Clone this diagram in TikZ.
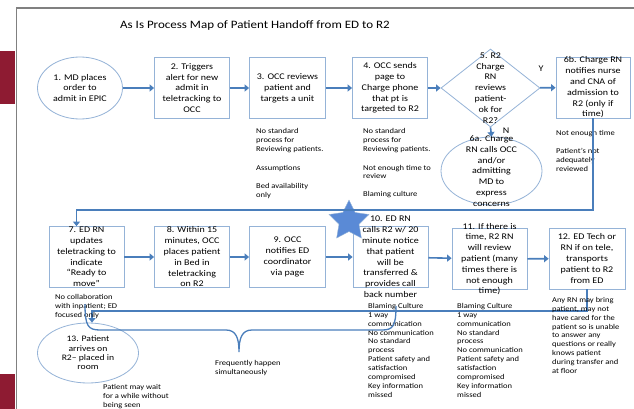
\documentclass[tikz,border=0pt]{standalone}
\usepackage{fontspec}
\setmainfont{Carlito}[FakeStretch=1.15]
\usetikzlibrary{arrows.meta,shapes.geometric}

\definecolor{flowblue}{HTML}{4A7EBB}
\definecolor{edgeblue}{HTML}{95B3D7}
\definecolor{starblue}{HTML}{5A8AD6}
\definecolor{framered}{HTML}{8E1B32}
\definecolor{framegray}{HTML}{808080}

\tikzset{
  procbox/.style={draw=edgeblue, line width=0.8pt, fill=white, minimum width=75pt, minimum height=61pt, inner sep=0pt},
  ovalbox/.style={ellipse, draw=edgeblue, line width=0.8pt, fill=white, inner sep=0pt},
  boxtext/.style={align=center, inner sep=0pt, font=\fontsize{8.7}{10.8}\selectfont},
  notetext/.style={anchor=north west, align=left, inner sep=0pt, font=\fontsize{7.4}{8.9}\selectfont},
  flowarrow/.style={draw=flowblue, line width=1.6pt, -{Triangle[length=4.5pt,width=7pt]}},
  flowline/.style={draw=flowblue, line width=1.3pt}
}

\begin{document}
\begin{tikzpicture}[x=1pt, y=-1pt]
  \useasboundingbox (0,0) rectangle (634,409);
  \fill[framered] (0,51) rectangle (15,104);
  \fill[framered] (0,374) rectangle (15,409);
  \draw[framegray, line width=1.6pt] (16.5,409) -- (16.5,8) -- (634,8);

  \node[font=\fontsize{11.3}{13}\selectfont] (title) at (255,25) {As Is Process Map of Patient Handoff from ED to R2};

  % first row
  \node[ovalbox, minimum width=85pt, minimum height=62pt] (s1) at (80,88) {};
  \node[boxtext] (t1) at (s1) {1. MD places\\order to\\admit in EPIC};
  \node[procbox] (s2) at (192,88) {};
  \node[boxtext] (t2) at (s2) {2. Triggers\\alert for new\\admit in\\teletracking to\\OCC};
  \node[procbox, minimum width=76pt] (s3) at (287.5,88) {};
  \node[boxtext] (t3) at (s3) {3. OCC reviews\\patient and\\targets a unit};
  \node[procbox] (s4) at (390,88) {};
  \node[boxtext] (t4) at (s4) {4. OCC sends\\page to\\Charge phone\\that pt is\\targeted to R2};
  \node[diamond, draw=edgeblue, line width=0.8pt, fill=white, inner sep=0pt,
        minimum width=99pt, minimum height=78pt] (s5) at (490.5,88) {};
  \node[boxtext] (t5) at (s5) {5. R2\\Charge\\RN\\reviews\\patient-\\ok for\\R2?};
  \node[procbox, minimum width=74pt] (s6b) at (593,87.5) {};
  \node[boxtext] (t6b) at (s6b) {6b. Charge RN\\notifies nurse\\and CNA of\\admission to\\R2 (only if\\time)};
  \node[ovalbox, minimum width=101pt, minimum height=68pt] (s6a) at (491.5,171) {};
  \node[boxtext] (t6a) at (s6a) {6a. Charge\\RN calls OCC\\and/or\\admitting\\MD to\\express\\concerns};

  \draw[flowarrow] (s1) -- (s2);
  \draw[flowarrow] (s2) -- (s3);
  \draw[flowarrow] (s3) -- (s4);
  \draw[flowarrow] (s4) -- (s5);
  \draw[flowarrow] (s5) -- (s6b);
  \draw[flowarrow] (s5.south) -- (s6a.north);
  \node[boxtext] (yes) at (541,69) {Y};
  \node[boxtext] (no) at (506,131) {N};

  \node[notetext] (n3) at (256,128) {No standard\\process for\\Reviewing patients.\\[10pt]Assumptions\\[10pt]Bed availability\\only};
  \node[notetext] (n4) at (363,128) {No standard\\process for\\Reviewing patients.\\[10pt]Not enough time to\\review\\[9pt]Blaming culture};
  \node[notetext] (n6b) at (556,130) {Not enough time\\[9pt]Patient’s not\\adequately\\reviewed};

  % second row
  \node[procbox] (s7) at (86.5,257) {};
  \node[boxtext] (t7) at (s7) {7. ED RN\\updates\\teletracking to\\indicate\\“Ready to\\move”};
  \node[procbox] (s8) at (192,257) {};
  \node[boxtext] (t8) at (s8) {8. Within 15\\minutes, OCC\\places patient\\in Bed in\\teletracking\\on R2};
  \node[procbox, minimum width=76pt] (s9) at (287.5,257) {};
  \node[boxtext] (t9) at (s9) {9. OCC\\notifies ED\\coordinator\\via page};
  \node[procbox] (s10) at (390.5,257) {};
  \node[star, star points=5, star point ratio=2.0, fill=starblue, draw=edgeblue,
        minimum size=42pt, inner sep=0pt] (flag) at (349,221) {};
  \node[boxtext] (t10) at (s10) {10. ED RN\\calls R2 w/ 20\\minute notice\\that patient\\will be\\transferred \&\\provides call\\back number};
  \node[procbox] (s11) at (489.5,259) {};
  \node[boxtext] (t11) at (s11) {11. If there is\\time, R2 RN\\will review\\patient (many\\times there is\\not enough\\time)};
  \node[procbox, minimum width=76pt] (s12) at (587,258.5) {};
  \node[boxtext] (t12) at (s12) {12. ED Tech or\\RN if on tele,\\transports\\patient to R2\\from ED};
  \node[ovalbox, minimum width=101pt, minimum height=60pt] (s13) at (88,353) {};
  \node[boxtext, font=\fontsize{8.4}{9.4}\selectfont] (t13) at (s13) {13. Patient\\arrives on\\R2– placed in\\room};

  \draw[flowarrow] (s7) -- (s8);
  \draw[flowarrow] (s8) -- (s9);
  \draw[flowarrow] (s9) -- (s10);
  \draw[flowarrow] (s10) -- (s11);
  \draw[flowarrow] (s11) -- (s12);

  % loops back
  \coordinate (railA) at (0,210);
  \coordinate (railB) at (0,311);
  \draw[flowarrow] (s6b.south) -- (s6b.south |- railA) -| ([xshift=-10pt]s7.north);
  \draw[flowarrow] (s12.south) -- (s12.south |- railB) -| ([xshift=4pt]s13.north);

  \node[notetext] (n7) at (55,294) {No collaboration\\with inpatient; ED\\focused only};
  \node[notetext] (n10) at (368,303) {Blaming Culture\\1 way\\communication\\No communication\\No standard\\process\\Patient safety and\\satisfaction\\compromised\\Key information\\missed};
  \node[notetext] (n11) at (457,303) {Blaming Culture\\1 way\\communication\\No standard\\process\\No communication\\Patient safety and\\satisfaction\\compromised\\Key information\\missed};
  \node[notetext] (n12) at (552,297) {Any RN may bring\\patient, may not\\have cared for the\\patient so is unable\\to answer any\\questions or really\\knows patient\\during transfer and\\at floor};
  \node[notetext] (n13) at (103,384) {Patient may wait\\for a while without\\being seen};

  % brace
  \draw[flowline] (85,304) .. controls (85,326) and (88,330) .. (100,330) -- (226,330)
    .. controls (236,330) and (239,338) .. (239,352)
    .. controls (239,338) and (242,330) .. (252,330) -- (382,330)
    .. controls (393,330) and (396,326) .. (396,306);
  \node[notetext] (nsim) at (215,360) {Frequently happen\\simultaneously};
\end{tikzpicture}
\end{document}
